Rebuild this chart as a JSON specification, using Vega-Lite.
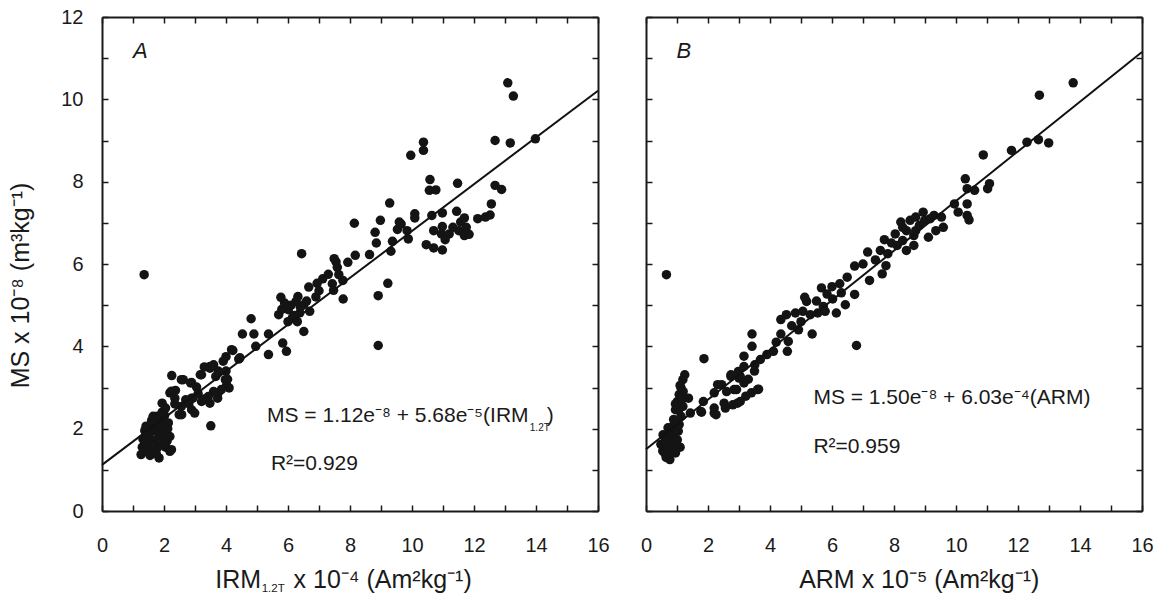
{
  "$schema": "https://vega.github.io/schema/vega-lite/v6.json",
  "padding": {"left": 8, "top": 7, "right": 2, "bottom": 0},
  "background": "white",
  "config": {
    "view": {"stroke": null},
    "font": "Liberation Sans",
    "axis": {"grid": false, "domain": true, "domainColor": "#1a1a1a", "domainWidth": 2, "minExtent": 0, "tickColor": "#1a1a1a", "tickWidth": 1.5, "tickSize": -6, "labelFont": "Liberation Sans", "labelFontSize": 20, "labelColor": "#1a1a1a", "labelFlush": false, "labelOverlap": false, "labelBound": false, "titleFont": "Liberation Sans", "titleFontWeight": "normal", "titleColor": "#1a1a1a"},
    "text": {"font": "Liberation Sans", "color": "#1a1a1a"}
  },
  "datasets": {
    "a": [
      {"x":1.26,"y":1.37},{"x":1.3,"y":1.55},{"x":1.32,"y":1.75},{"x":1.38,"y":1.95},{"x":1.42,"y":2.06},{"x":1.45,"y":1.45},{"x":1.5,"y":1.65},{"x":1.52,"y":1.85},{"x":1.58,"y":2.02},{"x":1.6,"y":2.2},{"x":1.62,"y":1.5},{"x":1.68,"y":1.72},{"x":1.7,"y":1.95},{"x":1.72,"y":2.12},{"x":1.78,"y":2.3},{"x":1.8,"y":1.55},{"x":1.84,"y":1.29},{"x":1.85,"y":1.82},{"x":1.88,"y":2.02},{"x":1.9,"y":2.22},{"x":1.95,"y":1.65},{"x":1.98,"y":1.9},{"x":2.0,"y":2.1},{"x":2.02,"y":2.32},{"x":2.05,"y":1.55},{"x":2.08,"y":1.78},{"x":2.12,"y":2.0},{"x":2.14,"y":2.14},{"x":2.19,"y":1.45},{"x":2.24,"y":1.49},{"x":1.65,"y":2.3},{"x":1.55,"y":1.35},{"x":2.1,"y":1.7},{"x":2.19,"y":1.81},{"x":1.4,"y":1.7},{"x":1.75,"y":1.4},{"x":1.94,"y":2.4},{"x":2.05,"y":2.5},
      {"x":1.94,"y":2.62},{"x":2.19,"y":2.87},{"x":2.24,"y":2.91},{"x":2.37,"y":2.93},{"x":2.35,"y":2.74},{"x":2.25,"y":3.29},{"x":2.56,"y":3.19},{"x":2.62,"y":3.19},{"x":2.86,"y":3.11},{"x":2.89,"y":3.12},{"x":3.05,"y":3.01},{"x":3.21,"y":3.31},{"x":3.17,"y":3.31},{"x":3.48,"y":3.51},{"x":3.48,"y":3.47},{"x":3.3,"y":3.5},{"x":3.6,"y":3.55},{"x":3.67,"y":3.27},{"x":3.75,"y":3.4},{"x":3.91,"y":3.64},{"x":4.0,"y":3.75},{"x":4.0,"y":3.4},{"x":4.05,"y":3.2},{"x":4.02,"y":3.05},{"x":4.1,"y":2.99},{"x":3.98,"y":3.19},{"x":4.18,"y":3.92},{"x":4.22,"y":3.9},{"x":4.41,"y":3.69},{"x":4.45,"y":3.72},{"x":3.73,"y":2.74},{"x":3.75,"y":2.87},{"x":3.48,"y":2.62},{"x":3.43,"y":2.78},{"x":3.3,"y":2.72},{"x":3.21,"y":2.66},{"x":2.93,"y":2.74},{"x":2.89,"y":2.74},{"x":2.8,"y":2.61},{"x":2.89,"y":2.46},{"x":2.99,"y":2.38},{"x":2.56,"y":2.54},{"x":2.57,"y":2.34},{"x":2.49,"y":2.34},{"x":2.35,"y":2.6},{"x":3.51,"y":2.07},{"x":2.7,"y":2.7},{"x":3.1,"y":2.85},{"x":3.6,"y":2.9},{"x":3.85,"y":2.95},
      {"x":4.53,"y":4.3},{"x":4.81,"y":4.67},{"x":4.9,"y":4.3},{"x":4.96,"y":4.0},{"x":5.37,"y":4.3},{"x":5.37,"y":3.8},{"x":5.83,"y":4.08},{"x":5.95,"y":3.88},{"x":6.51,"y":4.36},{"x":5.7,"y":4.77},{"x":6.01,"y":4.89},{"x":6.14,"y":4.69},{"x":6.38,"y":4.81},{"x":5.89,"y":5.05},{"x":6.51,"y":5.01},{"x":6.26,"y":5.09},{"x":6.2,"y":4.75},{"x":6.4,"y":4.95},{"x":6.6,"y":5.1},{"x":6.0,"y":4.6},{"x":6.3,"y":4.6},{"x":6.7,"y":4.85},{"x":5.8,"y":4.9},{"x":6.1,"y":5.0},{"x":5.77,"y":5.19},{"x":6.32,"y":5.21},{"x":6.67,"y":5.44},{"x":6.94,"y":5.53},{"x":7.12,"y":5.64},{"x":7.43,"y":5.52},{"x":7.47,"y":5.36},{"x":7.77,"y":5.6},{"x":7.78,"y":5.15},{"x":7.49,"y":6.13},{"x":7.59,"y":5.92},{"x":7.64,"y":5.74},{"x":7.55,"y":6.05},{"x":7.93,"y":6.04},{"x":8.17,"y":6.21},{"x":6.44,"y":6.25},{"x":8.63,"y":6.23},{"x":8.91,"y":5.23},{"x":9.22,"y":5.53},{"x":8.91,"y":4.02},{"x":7.0,"y":5.35},{"x":7.3,"y":5.75},{"x":6.9,"y":5.2},
      {"x":8.14,"y":6.99},{"x":8.81,"y":6.77},{"x":8.85,"y":6.51},{"x":8.98,"y":7.06},{"x":9.28,"y":7.48},{"x":9.32,"y":6.31},{"x":9.37,"y":6.55},{"x":9.53,"y":6.84},{"x":9.59,"y":7.02},{"x":9.65,"y":6.97},{"x":9.84,"y":6.81},{"x":9.88,"y":6.61},{"x":9.96,"y":8.64},{"x":10.09,"y":7.22},{"x":10.09,"y":7.12},{"x":10.37,"y":8.96},{"x":10.37,"y":8.76},{"x":10.46,"y":6.47},{"x":10.56,"y":7.79},{"x":10.58,"y":8.05},{"x":10.64,"y":7.18},{"x":10.7,"y":6.39},{"x":10.7,"y":6.81},{"x":10.77,"y":7.8},{"x":10.95,"y":6.73},{"x":10.98,"y":6.34},{"x":10.98,"y":6.91},{"x":10.98,"y":7.24},{"x":11.07,"y":6.59},{"x":11.2,"y":6.73},{"x":11.32,"y":6.89},{"x":11.44,"y":7.28},{"x":11.47,"y":7.96},{"x":11.51,"y":6.81},{"x":11.57,"y":7.02},{"x":11.69,"y":6.69},{"x":11.69,"y":7.12},{"x":11.75,"y":6.89},{"x":11.84,"y":6.72},{"x":12.12,"y":7.1},{"x":12.37,"y":7.14},{"x":12.52,"y":7.19},{"x":12.56,"y":7.46},{"x":12.68,"y":7.91},{"x":12.89,"y":7.81},{"x":12.68,"y":9.0},{"x":13.09,"y":10.4},{"x":13.27,"y":10.08},{"x":13.17,"y":8.94},{"x":13.98,"y":9.04},
      {"x":1.36,"y":5.74}
    ],
    "b": [
      {"x":0.48,"y":1.62},{"x":0.54,"y":1.46},{"x":0.6,"y":1.41},{"x":0.62,"y":1.7},{"x":0.66,"y":1.78},{"x":0.68,"y":1.55},{"x":0.71,"y":2.02},{"x":0.73,"y":1.35},{"x":0.77,"y":1.25},{"x":0.77,"y":1.9},{"x":0.8,"y":1.65},{"x":0.83,"y":1.57},{"x":0.86,"y":1.8},{"x":0.89,"y":1.94},{"x":0.89,"y":2.22},{"x":0.92,"y":1.45},{"x":0.95,"y":1.41},{"x":0.95,"y":2.46},{"x":0.98,"y":1.7},{"x":1.01,"y":1.73},{"x":1.01,"y":2.66},{"x":1.04,"y":1.94},{"x":1.07,"y":2.1},{"x":1.07,"y":2.83},{"x":1.1,"y":1.55},{"x":1.13,"y":2.3},{"x":1.13,"y":2.99},{"x":1.19,"y":2.54},{"x":1.19,"y":3.19},{"x":1.25,"y":3.31},{"x":1.37,"y":2.74},{"x":1.43,"y":2.38},{"x":0.55,"y":1.85},{"x":0.85,"y":2.05},{"x":0.65,"y":1.3},{"x":1.0,"y":2.2},{"x":1.05,"y":2.45},{"x":0.95,"y":2.6},{"x":1.15,"y":2.7},{"x":1.1,"y":3.05},{"x":1.2,"y":2.9},
      {"x":1.77,"y":2.42},{"x":1.79,"y":2.4},{"x":1.85,"y":2.66},{"x":1.87,"y":3.7},{"x":2.2,"y":2.38},{"x":2.2,"y":2.87},{"x":2.2,"y":2.5},{"x":2.26,"y":2.34},{"x":2.31,"y":3.07},{"x":2.44,"y":3.07},{"x":2.52,"y":2.62},{"x":2.56,"y":2.5},{"x":2.74,"y":3.27},{"x":2.74,"y":3.31},{"x":2.8,"y":2.58},{"x":2.84,"y":2.95},{"x":2.92,"y":2.95},{"x":2.95,"y":2.62},{"x":2.98,"y":3.39},{"x":3.0,"y":3.23},{"x":3.04,"y":2.66},{"x":3.04,"y":3.27},{"x":3.16,"y":3.11},{"x":3.16,"y":3.51},{"x":3.16,"y":3.76},{"x":3.22,"y":2.79},{"x":3.4,"y":2.87},{"x":3.42,"y":4.0},{"x":3.42,"y":4.3},{"x":3.51,"y":3.55},{"x":3.6,"y":2.95},{"x":3.63,"y":2.96},{"x":3.69,"y":3.68},{"x":4.11,"y":3.88},{"x":4.35,"y":4.3},{"x":4.35,"y":4.65},{"x":4.53,"y":4.77},{"x":4.56,"y":3.88},{"x":4.59,"y":4.12},{"x":4.82,"y":4.81},{"x":4.92,"y":4.4},{"x":5.06,"y":4.85},{"x":5.18,"y":5.09},{"x":5.3,"y":4.77},{"x":5.36,"y":4.3},{"x":5.54,"y":4.81},{"x":5.72,"y":4.97},{"x":5.78,"y":4.85},{"x":6.14,"y":4.81},{"x":6.43,"y":5.01},{"x":6.79,"y":4.02},{"x":3.3,"y":3.2},{"x":3.5,"y":3.4},{"x":3.9,"y":3.8},{"x":4.2,"y":4.1},{"x":4.7,"y":4.5},{"x":5.0,"y":4.6},{"x":2.6,"y":2.9},
      {"x":0.66,"y":5.74},{"x":5.12,"y":5.19},{"x":5.66,"y":5.42},{"x":5.84,"y":5.27},{"x":6.02,"y":5.15},{"x":6.25,"y":5.52},{"x":6.49,"y":5.68},{"x":6.73,"y":5.26},{"x":6.73,"y":5.95},{"x":7.21,"y":5.6},{"x":7.15,"y":6.29},{"x":7.56,"y":6.33},{"x":7.62,"y":5.76},{"x":7.74,"y":5.96},{"x":7.8,"y":6.25},{"x":7.69,"y":6.59},{"x":7.92,"y":6.51},{"x":8.04,"y":6.73},{"x":8.22,"y":7.02},{"x":8.28,"y":6.57},{"x":8.28,"y":6.89},{"x":8.4,"y":6.81},{"x":8.4,"y":6.33},{"x":8.52,"y":7.06},{"x":8.64,"y":6.45},{"x":8.64,"y":6.69},{"x":8.7,"y":7.14},{"x":8.7,"y":6.81},{"x":8.82,"y":6.94},{"x":8.94,"y":7.26},{"x":8.99,"y":7.06},{"x":9.11,"y":6.65},{"x":9.17,"y":7.1},{"x":9.29,"y":7.18},{"x":9.35,"y":6.81},{"x":9.53,"y":7.14},{"x":9.59,"y":6.89},{"x":9.95,"y":7.46},{"x":10.07,"y":7.26},{"x":10.36,"y":7.46},{"x":10.36,"y":7.18},{"x":10.42,"y":7.07},{"x":10.3,"y":8.07},{"x":10.36,"y":7.83},{"x":10.6,"y":7.79},{"x":11.02,"y":7.83},{"x":11.08,"y":7.95},{"x":10.88,"y":8.65},{"x":11.79,"y":8.76},{"x":12.29,"y":8.96},{"x":12.66,"y":9.02},{"x":12.99,"y":8.94},{"x":12.69,"y":10.1},{"x":13.78,"y":10.4},{"x":6.0,"y":5.45},{"x":6.3,"y":5.3},{"x":5.5,"y":5.1},{"x":7.0,"y":6.0},{"x":7.4,"y":6.1},{"x":8.1,"y":6.45}
    ],
    "fitA": [{"x":0,"y":1.12},{"x":16,"y":10.21}],
    "fitB": [{"x":0,"y":1.5},{"x":16,"y":11.15}]
  },
  "spacing": 30,
  "hconcat": [
    {
      "width": 496,
      "height": 494,
      "layer": [
        {
          "data": {"name": "a"},
          "mark": {"type": "circle", "size": 90, "opacity": 1, "color": "#141414"},
          "encoding": {
            "x": {"field": "x", "type": "quantitative", "scale": {"domain": [0, 16], "nice": false}, "axis": {"orient": "bottom", "values": [0,1,2,3,4,5,6,7,8,9,10,11,12,13,14,15,16], "labelExpr": "datum.value % 2 === 0 ? datum.label : ''", "labelPadding": 30, "title": null}},
            "y": {"field": "y", "type": "quantitative", "scale": {"domain": [0, 12], "nice": false}, "axis": {"orient": "left", "values": [0,1,2,3,4,5,6,7,8,9,10,11,12], "labelExpr": "datum.value % 2 === 0 ? datum.label : ''", "labelPadding": 25, "title": "MS x 10⁻⁸ (m³kg⁻¹)", "titleFontSize": 25, "titlePadding": 27, "titleY": 268}}
          }
        },
        {
          "data": {"name": "fitA"},
          "mark": {"type": "line", "color": "#111111", "strokeWidth": 2},
          "encoding": {
            "x": {"field": "x", "type": "quantitative", "scale": {"domain": [0, 16], "nice": false}, "axis": {"orient": "top", "values": [0,1,2,3,4,5,6,7,8,9,10,11,12,13,14,15,16], "labels": false, "title": null}},
            "y": {"field": "y", "type": "quantitative", "scale": {"domain": [0, 12], "nice": false}, "axis": {"orient": "right", "values": [0,1,2,3,4,5,6,7,8,9,10,11,12], "labels": false, "title": null}}
          }
        },
        {
          "data": {"values": [{}]},
          "mark": {"type": "text", "text": "A", "fontSize": 22, "fontStyle": "italic", "align": "left", "baseline": "alphabetic"},
          "encoding": {"x": {"datum": 1.0, "type": "quantitative", "axis": null}, "y": {"datum": 11.0, "type": "quantitative", "axis": null}}
        },
        {
          "data": {"values": [{}]},
          "mark": {"type": "text", "text": "MS = 1.12e⁻⁸ + 5.68e⁻⁵(IRM", "fontSize": 21, "align": "right", "baseline": "alphabetic"},
          "encoding": {"x": {"datum": 13.76, "type": "quantitative", "axis": null}, "y": {"datum": 2.17, "type": "quantitative", "axis": null}}
        },
        {
          "data": {"values": [{}]},
          "mark": {"type": "text", "text": "1.2T", "fontSize": 10, "align": "left", "baseline": "alphabetic"},
          "encoding": {"x": {"datum": 13.8, "type": "quantitative", "axis": null}, "y": {"datum": 1.95, "type": "quantitative", "axis": null}}
        },
        {
          "data": {"values": [{}]},
          "mark": {"type": "text", "text": ")", "fontSize": 21, "align": "left", "baseline": "alphabetic"},
          "encoding": {"x": {"datum": 14.35, "type": "quantitative", "axis": null}, "y": {"datum": 2.17, "type": "quantitative", "axis": null}}
        },
        {
          "data": {"values": [{}]},
          "mark": {"type": "text", "text": "R²=0.929", "fontSize": 21, "align": "left", "baseline": "alphabetic"},
          "encoding": {"x": {"datum": 5.45, "type": "quantitative", "axis": null}, "y": {"datum": 1.0, "type": "quantitative", "axis": null}}
        },
        {
          "data": {"values": [{}]},
          "mark": {"type": "text", "text": "IRM", "fontSize": 25, "align": "right", "baseline": "alphabetic"},
          "encoding": {"x": {"datum": 5.13, "type": "quantitative", "axis": null}, "y": {"datum": -1.88, "type": "quantitative", "axis": null}}
        },
        {
          "data": {"values": [{}]},
          "mark": {"type": "text", "text": "1.2T", "fontSize": 11.5, "align": "left", "baseline": "alphabetic"},
          "encoding": {"x": {"datum": 5.15, "type": "quantitative", "axis": null}, "y": {"datum": -1.96, "type": "quantitative", "axis": null}}
        },
        {
          "data": {"values": [{}]},
          "mark": {"type": "text", "text": "x 10⁻⁴ (Am²kg⁻¹)", "fontSize": 25, "align": "left", "baseline": "alphabetic"},
          "encoding": {"x": {"datum": 6.18, "type": "quantitative", "axis": null}, "y": {"datum": -1.88, "type": "quantitative", "axis": null}}
        }
      ],
      "resolve": {"axis": {"x": "independent", "y": "independent"}}
    },
    {
      "width": 496,
      "height": 494,
      "layer": [
        {
          "data": {"name": "b"},
          "mark": {"type": "circle", "size": 90, "opacity": 1, "color": "#141414"},
          "encoding": {
            "x": {"field": "x", "type": "quantitative", "scale": {"domain": [0, 16], "nice": false}, "axis": {"orient": "bottom", "values": [0,1,2,3,4,5,6,7,8,9,10,11,12,13,14,15,16], "labelExpr": "datum.value % 2 === 0 ? datum.label : ''", "labelPadding": 30, "title": null}},
            "y": {"field": "y", "type": "quantitative", "scale": {"domain": [0, 12], "nice": false}, "axis": {"orient": "left", "values": [0,1,2,3,4,5,6,7,8,9,10,11,12], "labels": false, "title": null}}
          }
        },
        {
          "data": {"name": "fitB"},
          "mark": {"type": "line", "color": "#111111", "strokeWidth": 2},
          "encoding": {
            "x": {"field": "x", "type": "quantitative", "scale": {"domain": [0, 16], "nice": false}, "axis": {"orient": "top", "values": [0,1,2,3,4,5,6,7,8,9,10,11,12,13,14,15,16], "labels": false, "title": null}},
            "y": {"field": "y", "type": "quantitative", "scale": {"domain": [0, 12], "nice": false}, "axis": {"orient": "right", "values": [0,1,2,3,4,5,6,7,8,9,10,11,12], "labels": false, "title": null}}
          }
        },
        {
          "data": {"values": [{}]},
          "mark": {"type": "text", "text": "B", "fontSize": 22, "fontStyle": "italic", "align": "left", "baseline": "alphabetic"},
          "encoding": {"x": {"datum": 0.98, "type": "quantitative", "axis": null}, "y": {"datum": 11.0, "type": "quantitative", "axis": null}}
        },
        {
          "data": {"values": [{}]},
          "mark": {"type": "text", "text": "MS = 1.50e⁻⁸ + 6.03e⁻⁴(ARM)", "fontSize": 21, "align": "left", "baseline": "alphabetic"},
          "encoding": {"x": {"datum": 5.4, "type": "quantitative", "axis": null}, "y": {"datum": 2.61, "type": "quantitative", "axis": null}}
        },
        {
          "data": {"values": [{}]},
          "mark": {"type": "text", "text": "R²=0.959", "fontSize": 21, "align": "left", "baseline": "alphabetic"},
          "encoding": {"x": {"datum": 5.4, "type": "quantitative", "axis": null}, "y": {"datum": 1.42, "type": "quantitative", "axis": null}}
        },
        {
          "data": {"values": [{}]},
          "mark": {"type": "text", "text": "ARM x 10⁻⁵ (Am²kg⁻¹)", "fontSize": 25, "align": "left", "baseline": "alphabetic"},
          "encoding": {"x": {"datum": 4.94, "type": "quantitative", "axis": null}, "y": {"datum": -1.88, "type": "quantitative", "axis": null}}
        }
      ],
      "resolve": {"axis": {"x": "independent", "y": "independent"}}
    }
  ]
}
